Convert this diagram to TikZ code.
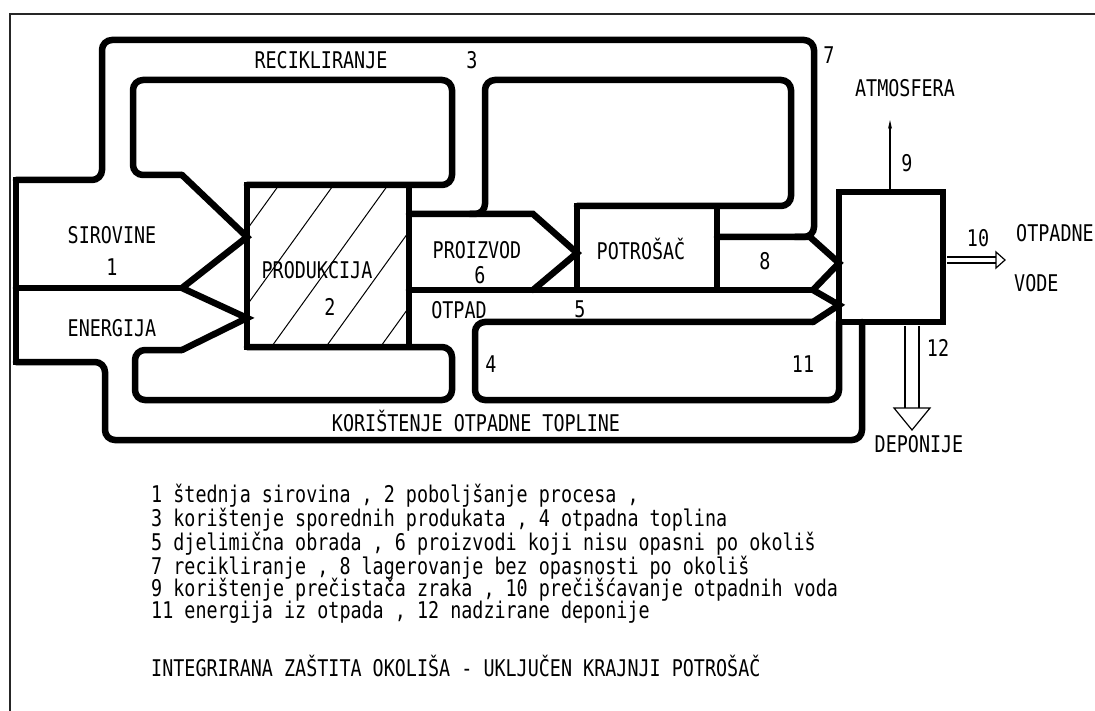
\documentclass[tikz,border=0pt]{standalone}
\usepackage{fontspec}
\newfontfamily\cad{DejaVu Sans Mono}[FakeStretch=0.8]
\usetikzlibrary{arrows.meta}
\begin{document}
\begin{tikzpicture}[x=1pt,y=-1pt,
  wall/.style={line width=6.5pt, line cap=round, line join=miter},
  loopw/.style={wall, rounded corners=10pt},
  hatchline/.style={line width=1pt},
  fine/.style={line width=1.2pt},
  lab/.style={font=\cad\fontsize{23}{23}\selectfont, inner sep=0pt, anchor=base},
  leg/.style={lab, anchor=base west},
]
\useasboundingbox (0,0) rectangle (1095,711);
% frame
\draw[line width=2.5pt, black!85] (10,711) -- (10,14) -- (1095,14);

% hatching of production box
\begin{scope}
  \clip (247,185) rectangle (409,347);
  \foreach \k in {0,...,4}
    \draw[hatchline] ({279+54.5*\k+0.72*50},135) -- ({279+54.5*\k-0.72*215},400);
\end{scope}

% outer top band (recycling)
\draw[loopw] (16,180) -- (102,180) -- (102,40) -- (814,40) -- (814,237) -- (795,237);
\draw[wall, line cap=rect] (16,180) -- (16,362);
% outer bottom band (waste heat)
\draw[loopw] (16,362) -- (105,362) -- (105,440) -- (862,440) -- (862,322);
% separator raw materials / energy
\draw[wall] (16,288) -- (182,288);
% inner left upper loop
\draw[loopw] (247,185) -- (452,185) -- (452,80) -- (133,80) -- (133,175) -- (182,175);
% input arrows
\draw[wall] (182,175) -- (247,237) -- (182,288) -- (247,318) -- (182,350);
% inner left lower loop
\draw[loopw] (182,350) -- (135,350) -- (135,400) -- (452,400) -- (452,347) -- (247,347);
% inner right upper loop
\draw[loopw] (409,214) -- (485,214) -- (485,80) -- (791,80) -- (791,206) -- (577,206);
% product arrow
\draw[wall] (470,214) -- (533,214) -- (577,253) -- (533,290);
% middle line
\draw[wall] (409,290) -- (813,290);
% arrows 8 and 5
\draw[wall] (717,237) -- (810,237) -- (839,263) -- (813,290) -- (839,305) -- (813,322);
% lower right loop
\draw[loopw] (813,322) -- (475,322) -- (475,400) -- (839,400) -- (839,322);

% boxes
\draw[wall, line cap=butt] (247,185) rectangle (409,347);
\draw[wall, line cap=butt] (577,206) rectangle (717,290);
\draw[wall, line cap=butt] (839,192) rectangle (943,322);

% arrow 9 to atmosphere
\draw[fine, -{Stealth[length=9pt,width=4pt]}] (890,189) -- (890,120);
% double arrow 10
\draw[fine] (947,257) -- (996,257) (947,263) -- (996,263);
\draw[fine, line join=miter] (996,252) -- (1005,260) -- (996,268) -- cycle;
% double arrow 12
\draw[fine] (905,326) -- (905,408) (919,326) -- (919,408);
\draw[fine, line join=miter] (894,408) -- (930,408) -- (912,430) -- cycle;

% labels
\node[lab] (lrec) at (321,69) {RECIKLIRANJE};
\node[lab] (l3) at (472,69) {3};
\node[lab] (l7) at (829,64) {7};
\node[lab] (latm) at (905,97) {ATMOSFERA};
\node[lab] (l9) at (907,172) {9};
\node[lab] (lsir) at (112,244) {SIROVINE};
\node[lab] (l1) at (112,276) {1};
\node[lab] (lene) at (112,336) {ENERGIJA};
\node[lab] (lpro) at (317,279) {PRODUKCIJA};
\node[lab] (l2) at (330,316) {2};
\node[lab] (lprz) at (477,259) {PROIZVOD};
\node[lab] (l6) at (480,284) {6};
\node[lab] (lotp) at (459,319) {OTPAD};
\node[lab] (l5) at (580,317) {5};
\node[lab] (lpot) at (641,260) {POTROŠAČ};
\node[lab] (l8) at (765,270) {8};
\node[lab] (l10) at (978,247) {10};
\node[leg] (lotv) at (1016,242) {OTPADNE};
\node[leg] (lvod) at (1014,292) {VODE};
\node[lab] (l12) at (938,356) {12};
\node[lab] (ldep) at (919,452) {DEPONIJE};
\node[lab] (l4) at (491,372) {4};
\node[lab] (l11) at (803,372) {11};
\node[lab] (lkor) at (476,431) {KORIŠTENJE OTPADNE TOPLINE};

% legend
\node[leg] (g1) at (151,502) {1 štednja sirovina , 2 poboljšanje procesa ,};
\node[leg] (g2) at (151,526) {3 korištenje sporednih produkata , 4 otpadna toplina};
\node[leg] (g3) at (151,550) {5 djelimična obrada , 6 proizvodi koji nisu opasni po okoliš};
\node[leg] (g4) at (151,574) {7 recikliranje , 8 lagerovanje bez opasnosti po okoliš};
\node[leg] (g5) at (151,596) {9 korištenje prečistača zraka , 10 prečišćavanje otpadnih voda};
\node[leg] (g6) at (151,618) {11 energija iz otpada , 12 nadzirane deponije};
\node[leg] (gt) at (151,676) {INTEGRIRANA ZAŠTITA OKOLIŠA - UKLJUČEN KRAJNJI POTROŠAČ};
\end{tikzpicture}
\end{document}
